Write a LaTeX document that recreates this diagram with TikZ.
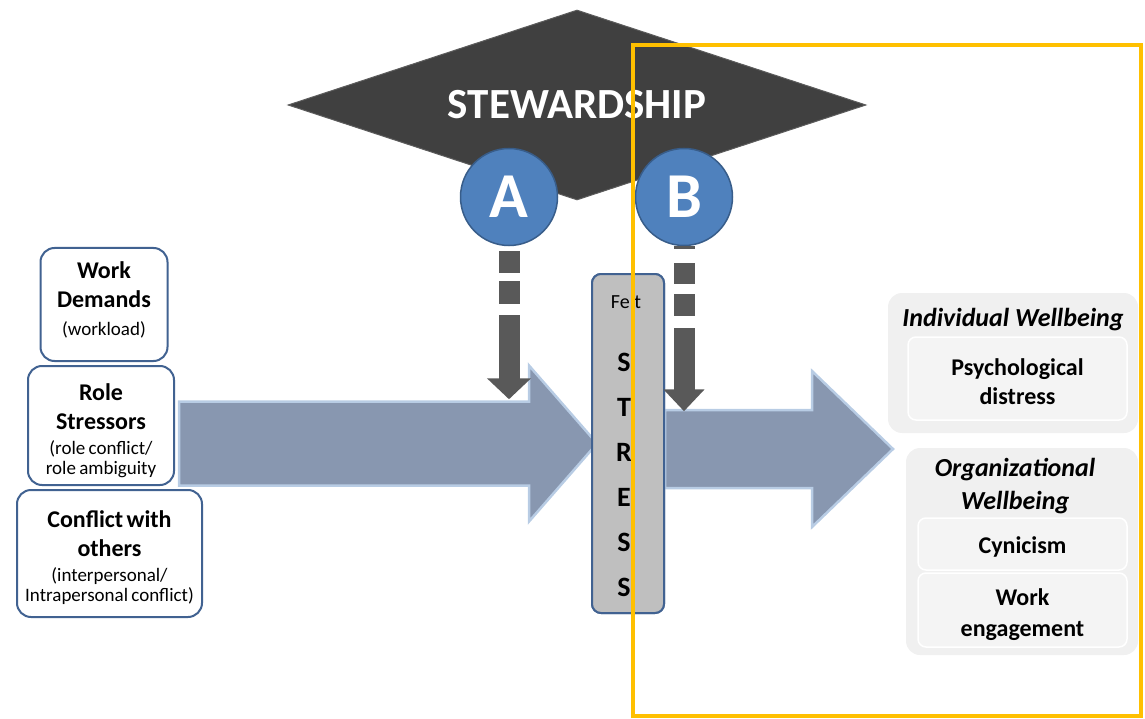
\documentclass[tikz,border=0pt]{standalone}
\usepackage{fontspec}
\setmainfont{Carlito}
\usetikzlibrary{positioning, shapes.geometric, arrows.meta, calc}

\definecolor{stewgrey}{RGB}{64,64,64}
\definecolor{stewedge}{RGB}{92,92,92}
\definecolor{circblue}{RGB}{79,129,189}
\definecolor{circedge}{RGB}{56,93,138}
\definecolor{boxedge}{RGB}{65,98,145}
\definecolor{flowfill}{RGB}{136,151,176}
\definecolor{flowglow}{RGB}{184,204,228}
\definecolor{dropgrey}{RGB}{89,89,89}
\definecolor{stressfill}{RGB}{191,191,191}
\definecolor{panelfill}{RGB}{240,240,240}
\definecolor{cellfill}{RGB}{244,244,244}
\definecolor{framegold}{RGB}{255,192,0}

\newcommand\headfont{\fontsize{24}{29}\selectfont\bfseries}
\newcommand\notefont{\fontsize{19}{20}\selectfont}
\newcommand\titlefont{\fontsize{26}{33}\selectfont\bfseries\itshape}

\newcommand\fatarrow[5]{%
  \draw[flow] let \p1=(#1), \p2=(#2) in
    (\x1,\y2+#3) -- (\x2-#5,\y2+#3) -- (\x2-#5,\y2+#4) -- (\x2,\y2)
    -- (\x2-#5,\y2-#4) -- (\x2-#5,\y2-#3) -- (\x1,\y2-#3) -- cycle;}

\tikzset{
  srcbox/.style={draw=boxedge, line width=2pt, rounded corners=14pt, fill=white,
    align=center, inner xsep=2pt, inner ysep=0pt},
  letter/.style={circle, fill=circblue, draw=circedge, line width=1.5pt,
    minimum size=97pt, inner sep=0pt, text=white, font=\fontsize{64}{64}\selectfont\bfseries},
  flow/.style={fill=flowfill, draw=flowglow, line width=2.5pt, line join=miter},
  drop/.style={draw=dropgrey, line width=21pt},
  stressbox/.style={draw=boxedge, line width=2pt, fill=stressfill, rounded corners=9pt},
  panel/.style={fill=panelfill, rounded corners=14pt},
  cell/.style={fill=cellfill, draw=white, line width=1.5pt, rounded corners=8pt,
    align=center, font=\headfont},
  goldframe/.style={draw=framegold, line width=4pt}
}

\begin{document}
\begin{tikzpicture}[x=1pt, y=-1pt]
    \useasboundingbox (0,0) rectangle (1145,719);

    \node[diamond, aspect=3, fill=stewgrey, draw=stewedge, line width=1pt,
      minimum width=578pt, minimum height=190pt, inner sep=0pt, text=white,
      font=\fontsize{43}{43}\selectfont\bfseries] (stew) at (577,105) {STEWARDSHIP};

    \node[srcbox, text width=123pt, minimum height=113pt] (work) at (104,304.5)
      {{\headfont Work\\Demands\par}{\notefont\vspace{8pt}(workload)\rule[-12pt]{0pt}{12pt}\par}};
    \node[srcbox, text width=142pt, minimum height=119pt] (role) at (101,425.5)
      {{\headfont\rule{0pt}{28pt}Role\\Stressors\par}{\notefont\vspace{5pt}(role conflict/\\role ambiguity\par}};
    \node[srcbox, text width=181pt, minimum height=127pt] (conflict) at (109.5,553.5)
      {{\headfont\rule{0pt}{25pt}Conflict with\\others\par}{\notefont\vspace{5pt}(interpersonal/\\Intrapersonal conflict)\par}};

    \node[stressbox, minimum width=72pt, minimum height=339pt] (stress) at (628,443.5) {};
    \coordinate (flowtip) at (893,449);

    \fatarrow{[xshift=4pt]role.east}{[xshift=6pt]stress.west}{42pt}{78pt}{68pt}
    \fatarrow{stress.east}{flowtip}{39pt}{78pt}{81pt}

    \node[stressbox, minimum width=72pt, minimum height=339pt] at (stress) {};
    \node[font=\fontsize{20}{20}\selectfont] (felt) at (626,302) {Felt};
    \node[text width=60pt, align=center, font=\fontsize{28}{45}\selectfont\bfseries]
      (letters) at (624,475) {S\\T\\R\\E\\S\\S};

    \node[letter] (cA) at (509,197) {A};
    \node[letter] (cB) at (684,197) {B};

    \draw[drop, dash pattern=on 22pt off 8pt on 23pt off 11pt on 300pt,
      -{Triangle[length=21pt, width=43pt]}] ([yshift=-5pt]cA.south) -- ++(0,148);
    \draw[drop, dash pattern=on 3pt off 14pt on 21pt off 10pt on 22pt off 12pt on 300pt,
      -{Triangle[length=22pt, width=40pt]}] (cB.south) -- ++(0,165);

    \node[panel, minimum width=250pt, minimum height=140pt] (indiv) at (1013,363) {};
    \node[font=\titlefont] (indivtitle) at (1013,320) {Individual Wellbeing};
    \node[cell, minimum width=219pt, minimum height=83pt] (distress) at (1017.5,378.5)
      {\rule{0pt}{24pt}Psychological\\distress};

    \node[panel, minimum width=232pt, minimum height=207pt] (org) at (1022,551.5) {};
    \node[font=\titlefont, align=center] (orgtitle) at (1015,486) {Organizational\\Wellbeing};
    \node[cell, minimum width=209pt, minimum height=52pt] (cynic) at (1022.5,544)
      {\rule{0pt}{23pt}Cynicism};
    \node[cell, minimum width=209pt, minimum height=74pt] (engage) at (1022.5,610)
      {\rule{0pt}{27pt}Work\\[2pt]engagement};

    \draw[goldframe] (633,45) rectangle (1141,716);
\end{tikzpicture}
\end{document}
